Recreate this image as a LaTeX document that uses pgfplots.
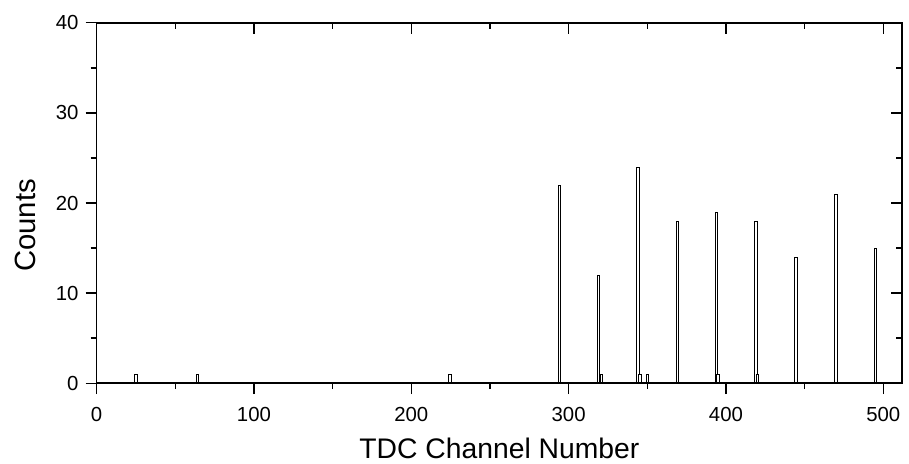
\documentclass[border=0pt]{standalone}
\usepackage{fontspec}
\setmainfont{Liberation Sans}
\usepackage{pgfplots}
\pgfplotsset{compat=1.18}
\begin{document}
\begin{tikzpicture}
\pgfplotsset{
  common/.style={
    scale only axis, width=811.5pt, height=363pt,
    xmin=0, xmax=512, ymin=0, ymax=40,
    xtick={0,100,...,500}, ytick={0,10,...,40},
    minor x tick num=1, minor y tick num=1,
    major tick length=11pt, minor tick length=6pt,
    axis line style={line width=1.5pt},
    every tick/.style={black, line width=1.3pt},
    clip=false,
  },
  hbar/.style={ybar, bar shift=0pt, draw=black, fill=white, line width=0.7pt},
}
\begin{axis}[common, name=ax,
  tick align=outside, xtick pos=bottom, ytick pos=left,
  /pgf/number format/assume math mode=true,
  xticklabel style={font=\fontsize{20.5}{24}\selectfont, inner sep=0pt, yshift=-13pt},
  yticklabel style={font=\fontsize{20.5}{24}\selectfont, inner sep=0pt, xshift=-7pt},
  xlabel={TDC Channel Number}, ylabel={Counts},
  xlabel style={font=\fontsize{28.5}{32}\selectfont, at={(axis description cs:0.5,-0.2085)}, anchor=base, inner sep=0pt},
  ylabel style={font=\fontsize{29.5}{33}\selectfont, at={(axis description cs:-0.0755,0.438)}, anchor=base, inner sep=0pt},
]
\addplot[hbar, bar width=1.6] coordinates {(294,22) (319,12) (344,24) (369,18) (394,19) (419,18) (470,21) (495,15)};
\addplot[hbar, bar width=2.1] coordinates {(444.4,14)};
\addplot[hbar, bar width=1.6] coordinates {(25,1) (64,1) (320.8,1) (345.2,1) (350,1) (395,1) (419.8,1)};
\addplot[hbar, bar width=2.0] coordinates {(224.6,1)};
\end{axis}
\begin{axis}[common,
  tick align=inside, xtick pos=top, ytick pos=right,
  xticklabel=\empty, yticklabel=\empty,
]
\end{axis}
\path (ax.south west) ++(-97.3pt,-81pt);
\path (ax.north east) ++(0.3pt,23pt);
\end{tikzpicture}
\end{document}
